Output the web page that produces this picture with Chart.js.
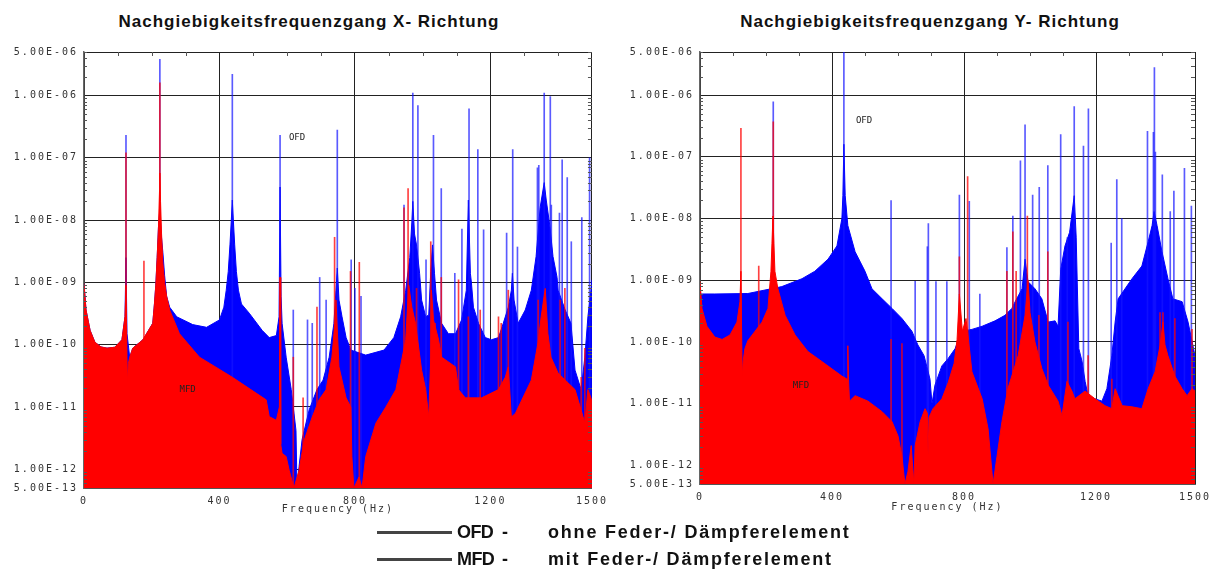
<!DOCTYPE html>
<html>
<head>
<meta charset="utf-8">
<script src="https://cdn.jsdelivr.net/npm/chart.js@4.4.1/dist/chart.umd.min.js"></script>
<style>
  html, body { margin: 0; padding: 0; background: #fff; }
  #page { position: relative; width: 1221px; height: 569px; overflow: hidden; font-family: 'Liberation Sans', Arial, sans-serif; }
  #page canvas { position: absolute; top: 0; }
  .title { position: absolute; top: 12px; font-weight: bold; font-size: 17px; letter-spacing: 1px; color: #111; text-align: center; white-space: nowrap; }
  .legline { position: absolute; left: 377px; width: 75px; height: 3px; background: #444; }
  .legtxt { position: absolute; font-weight: bold; font-size: 18px; color: #111; white-space: nowrap; line-height: 20px; }
  .legtxt.tag { letter-spacing: -0.6px; }
  .legtxt.wide { letter-spacing: 1.8px; }
</style>
</head>
<body>
<div id="page">
  <div class="title" style="left:9px;width:600px;">Nachgiebigkeitsfrequenzgang X- Richtung</div>
  <div class="title" style="left:630px;width:600px;">Nachgiebigkeitsfrequenzgang Y- Richtung</div>
  <canvas id="chartX" width="615" height="525" style="left:0;"></canvas>
  <canvas id="chartY" width="606" height="525" style="left:615px;"></canvas>

  <div class="legline" style="top:531px;"></div>
  <div class="legtxt tag" style="left:457px;top:522px;">OFD</div>
  <div class="legtxt" style="left:502px;top:522px;">-</div>
  <div class="legtxt wide" style="left:548px;top:522px;">ohne Feder-/ Dämpferelement</div>
  <div class="legline" style="top:558px;"></div>
  <div class="legtxt tag" style="left:457px;top:549px;">MFD</div>
  <div class="legtxt" style="left:502px;top:549px;">-</div>
  <div class="legtxt wide" style="left:548px;top:549px;">mit Feder-/ Dämpferelement</div>
</div>

<script>
// ---- axis ticks ----
const xTickValues = [0, 400, 800, 1200, 1500];
const yTickValues = [5e-13, 1e-12, 1e-11, 1e-10, 1e-9, 1e-8, 1e-7, 1e-6, 5e-6];
const xMinorTicks = [100, 200, 300, 500, 600, 700, 900, 1000, 1100, 1300, 1400];
const yFloor = 5e-13;
const yCeil = 5e-6;

// ---- X-Richtung: compliance envelopes [frequency Hz, m/N] ----
const ofdX = [
  [0, 9.5e-10], [6, 3.6e-10], [18, 1.7e-10], [32, 1.1e-10], [50, 9.2e-11], [68, 8.8e-11],
  [91, 9.1e-11], [112, 1.2e-10], [121, 2.8e-10], [124, 2.5e-9], [127, 1.5e-10], [135, 6.3e-11],
  [144, 8.8e-11], [174, 1.2e-10], [203, 2.2e-10], [208, 4.5e-10], [212, 9.0e-10], [216, 2.5e-9],
  [220, 8.0e-9], [224, 1.5e-8], [228, 6.0e-9], [233, 3.0e-9], [238, 1.3e-9], [244, 6.0e-10],
  [253, 4.0e-10], [274, 2.8e-10], [321, 2.1e-10], [362, 1.9e-10], [400, 2.5e-10], [413, 4.0e-10],
  [420, 7.5e-10], [426, 1.5e-9], [431, 4.0e-9], [435, 1.0e-8], [438, 2.1e-8], [441, 1.0e-8],
  [445, 4.0e-9], [450, 1.5e-9], [456, 7.5e-10], [465, 4.5e-10], [488, 3.2e-10], [526, 1.7e-10],
  [547, 1.3e-10], [568, 1.4e-10], [576, 2.8e-10], [579, 3.4e-8], [582, 6.0e-10], [585, 2.2e-10],
  [597, 6.3e-11], [612, 1.9e-11], [626, 4.2e-12], [629, 5.0e-13], [635, 1.1e-12], [644, 3.0e-12],
  [665, 9.0e-12], [688, 1.9e-11], [706, 2.7e-11], [724, 6.3e-11], [738, 2.2e-10], [744, 7.5e-10],
  [748, 1.7e-9], [753, 5.2e-10], [762, 2.8e-10], [774, 1.3e-10], [788, 8.2e-11], [832, 6.8e-11],
  [886, 8.2e-11], [915, 1.3e-10], [935, 2.8e-10], [950, 7.5e-10], [962, 2.5e-9], [968, 9.0e-9],
  [971, 2.0e-8], [976, 6.0e-9], [982, 4.0e-9], [991, 1.4e-9], [997, 5.2e-10], [1009, 2.8e-10],
  [1018, 3.0e-10], [1024, 1.5e-9], [1029, 4.0e-9], [1035, 1.4e-9], [1041, 5.2e-10], [1056, 2.2e-10],
  [1076, 1.5e-10], [1097, 1.5e-10], [1115, 2.5e-10], [1129, 7.5e-10], [1135, 2.1e-8], [1141, 1.4e-9],
  [1144, 1.0e-9], [1150, 4.0e-10], [1165, 2.2e-10], [1185, 1.3e-10], [1203, 1.2e-10], [1224, 1.3e-10],
  [1238, 2.2e-10], [1253, 4.0e-10], [1262, 7.5e-10], [1265, 1.4e-9], [1270, 5.2e-10], [1282, 2.2e-10],
  [1303, 3.6e-10], [1321, 7.5e-10], [1335, 2.6e-9], [1347, 1.6e-8], [1359, 4.0e-8], [1365, 2.1e-8],
  [1376, 7.8e-9], [1385, 2.6e-9], [1397, 1.2e-9], [1400, 7.5e-10], [1421, 3.6e-10], [1438, 2.2e-10],
  [1450, 3.9e-11], [1468, 1.9e-11], [1479, 6.3e-11], [1488, 2.8e-10], [1497, 7.5e-10], [1500, 1.1e-9]
];
const mfdX = [
  [0, 9.5e-10], [6, 3.6e-10], [18, 1.7e-10], [32, 1.1e-10], [50, 9.2e-11], [68, 8.8e-11],
  [91, 9.1e-11], [112, 1.2e-10], [121, 2.8e-10], [124, 9.0e-10], [126, 1.5e-10], [128, 2.5e-11],
  [131, 5.0e-11], [135, 6.3e-11], [144, 8.8e-11], [174, 1.2e-10], [203, 2.2e-10], [208, 4.5e-10],
  [212, 9.0e-10], [216, 2.5e-9], [220, 8.0e-9], [223, 3.0e-8], [224, 5.7e-8], [226, 2.0e-8],
  [229, 6.0e-9], [233, 2.0e-9], [238, 1.0e-9], [244, 6.0e-10], [253, 3.6e-10],
  [282, 1.5e-10], [341, 6.3e-11], [438, 3.0e-11], [538, 1.3e-11], [547, 7.0e-12], [568, 6.1e-12],
  [577, 1.0e-11], [579, 1.2e-9], [581, 2.5e-12], [585, 1.8e-12], [597, 1.6e-12], [606, 9.6e-13],
  [620, 5.0e-13], [635, 9.6e-13], [650, 2.9e-12], [674, 6.9e-12], [694, 1.3e-11], [715, 1.9e-11],
  [732, 6.3e-11], [741, 2.2e-10], [744, 5.2e-10], [753, 4.4e-11], [774, 1.4e-11], [788, 9.9e-12],
  [791, 1.6e-12], [797, 5.0e-13], [812, 7.5e-13], [821, 5.0e-13], [832, 1.6e-12], [862, 5.5e-12],
  [891, 9.9e-12], [921, 1.9e-11], [950, 1.2e-10], [959, 9.0e-10], [968, 4.0e-10], [979, 2.2e-10],
  [997, 3.9e-11], [1009, 1.9e-11], [1018, 6.9e-12], [1024, 6.3e-11], [1026, 7.5e-10], [1032, 2.5e-10],
  [1047, 1.2e-10], [1056, 6.3e-11], [1097, 4.4e-11], [1106, 1.9e-11], [1126, 1.4e-11], [1174, 1.4e-11],
  [1224, 1.9e-11], [1244, 3.0e-11], [1253, 4.4e-11], [1262, 6.9e-12], [1274, 7.9e-12], [1321, 2.7e-11],
  [1341, 1.1e-10], [1350, 2.8e-10], [1362, 8.0e-10], [1370, 1.5e-10], [1379, 6.3e-11], [1400, 3.5e-11],
  [1421, 2.7e-11], [1450, 1.9e-11], [1468, 8.9e-12], [1479, 5.5e-12], [1488, 1.9e-11], [1497, 1.4e-11],
  [1500, 1.2e-11]
];
// sharp resonance peaks [frequency Hz, peak m/N]
const ofdXPeaks = [
  [124, 2.3e-7], [224, 3.8e-6], [438, 2.2e-6], [579, 2.3e-7], [618, 3.6e-10], [660, 2.5e-10],
  [674, 2.2e-10], [696, 1.2e-9], [715, 5.2e-10], [748, 2.8e-7], [789, 2.3e-9], [800, 8.0e-10],
  [818, 6.0e-10], [945, 1.75e-8], [971, 1.1e-6], [986, 6.9e-7],
  [1010, 2.3e-9], [1032, 2.3e-7], [1055, 3.2e-8], [1095, 1.4e-9], [1116, 7.2e-9], [1137, 6.1e-7],
  [1163, 1.35e-7], [1180, 7.0e-9], [1248, 6.2e-9], [1266, 1.35e-7], [1280, 3.7e-9], [1339, 6.9e-8],
  [1343, 7.6e-8], [1359, 1.1e-6], [1377, 9.6e-7], [1380, 1.75e-8], [1404, 1.3e-8], [1412, 9.3e-8],
  [1427, 4.8e-8], [1439, 4.5e-9], [1470, 1.1e-8], [1493, 1.0e-7]
];
const mfdXPeaks = [
  [124, 1.2e-7], [177, 2.2e-9], [224, 1.6e-6], [579, 1.2e-9], [618, 6.3e-11], [647, 1.4e-11],
  [688, 4.0e-10], [740, 5.3e-9], [787, 1.5e-9], [813, 2.1e-9], [945, 1.57e-8], [957, 3.2e-8], [982, 8.0e-10],
  [1024, 4.5e-9], [1037, 2.2e-10], [1055, 1.2e-9], [1106, 1.1e-9], [1135, 2.8e-10], [1170, 3.6e-10],
  [1224, 2.8e-10], [1232, 2.2e-10], [1253, 7.5e-10], [1341, 5.2e-10], [1406, 5.2e-10], [1420, 8.0e-10],
  [1468, 3.0e-11], [1479, 8.7e-11]
];

// ---- Y-Richtung ----
const ofdY = [
  [0, 6.0e-10], [45, 6.0e-10], [145, 6.1e-10], [248, 7.9e-10], [309, 1.06e-9], [348, 1.4e-9],
  [388, 2.2e-9], [415, 3.6e-9], [430, 1.0e-8], [433, 2.35e-8], [436, 1.6e-7], [440, 2.35e-8],
  [448, 7.7e-9], [470, 2.9e-9], [500, 1.4e-9], [521, 7.3e-10], [552, 5.0e-10], [582, 3.5e-10],
  [612, 2.4e-10], [642, 1.5e-10], [660, 9.0e-11], [679, 6.0e-11], [697, 2.5e-11], [703, 1.0e-11],
  [712, 2.0e-11], [733, 4.1e-11], [752, 5.4e-11], [773, 7.8e-11], [786, 1.2e-10], [794, 1.5e-10],
  [824, 1.6e-10], [855, 1.8e-10], [894, 2.2e-10], [924, 2.7e-10], [945, 3.5e-10], [955, 4.5e-10],
  [976, 7.3e-10], [985, 2.2e-9], [994, 9.5e-10], [1015, 7.3e-10], [1036, 5.0e-10], [1055, 2.1e-10],
  [1076, 2.2e-10], [1085, 1.8e-10], [1093, 1.5e-9], [1106, 3.6e-9], [1120, 6.0e-9], [1134, 2.35e-8],
  [1140, 5.0e-9], [1143, 1.0e-9], [1148, 7.8e-11], [1158, 4.8e-11], [1167, 2.3e-11], [1176, 1.35e-11],
  [1197, 1.2e-11], [1218, 1.1e-11], [1233, 1.75e-11], [1248, 6.0e-11], [1258, 2.1e-10], [1267, 5.0e-10],
  [1309, 1.06e-9], [1339, 1.7e-9], [1358, 4.2e-9], [1370, 7.7e-9], [1376, 1.3e-8], [1385, 7.7e-9],
  [1400, 2.9e-9], [1418, 1.06e-9], [1433, 5.0e-10], [1461, 4.5e-10], [1479, 2.1e-10], [1500, 6.0e-11]
];
const mfdY = [
  [0, 9.5e-10], [6, 3.5e-10], [21, 1.8e-10], [45, 1.2e-10], [67, 1.1e-10], [91, 1.3e-10],
  [112, 2.1e-10], [121, 4.5e-10], [124, 1.4e-9], [126, 1.5e-10], [128, 2.8e-11], [131, 5.0e-11],
  [136, 7.8e-11], [145, 1.05e-10], [167, 1.5e-10], [188, 2.1e-10], [206, 3.5e-10], [215, 1.4e-9],
  [218, 3.9e-9], [221, 1.1e-8], [224, 3.9e-9], [227, 1.4e-9], [236, 7.3e-10], [258, 2.7e-10],
  [288, 1.3e-10], [327, 7.0e-11], [370, 4.8e-11], [430, 2.8e-11], [446, 2.5e-11], [448, 8.7e-11],
  [450, 2.5e-11], [453, 1.1e-11], [470, 1.35e-11], [509, 1.1e-11], [552, 7.4e-12], [582, 5.1e-12],
  [600, 3.0e-12], [612, 1.4e-12], [621, 5.0e-13], [630, 7.9e-13], [640, 2.1e-12], [648, 5.0e-13],
  [652, 2.1e-12], [667, 5.1e-12], [682, 8.3e-12], [689, 7.0e-12], [691, 1.5e-12], [694, 6.0e-12],
  [706, 8.3e-12], [733, 1.2e-11], [752, 2.2e-11], [770, 4.5e-11], [779, 1.1e-10], [786, 6.0e-10],
  [795, 1.5e-10], [806, 2.4e-10], [812, 1.3e-10], [824, 3.3e-11], [855, 1.2e-11], [873, 3.9e-12],
  [888, 5.0e-13], [900, 1.4e-12], [915, 5.1e-12], [933, 1.75e-11], [964, 6.0e-11], [985, 2.7e-10],
  [994, 1.0e-9], [1000, 3.0e-10], [1015, 1.0e-10], [1036, 3.7e-11], [1055, 2.0e-11], [1085, 1.1e-11],
  [1097, 6.4e-12], [1112, 2.3e-11], [1127, 1.6e-11], [1136, 1.2e-11], [1167, 1.6e-11], [1197, 1.2e-11],
  [1227, 9.3e-12], [1248, 8.3e-12], [1258, 1.75e-11], [1279, 9.3e-12], [1309, 8.9e-12], [1339, 8.3e-12],
  [1358, 1.75e-11], [1379, 3.3e-11], [1394, 8.7e-11], [1403, 2.1e-10], [1409, 9.0e-11], [1418, 6.0e-11],
  [1439, 2.8e-11], [1461, 1.75e-11], [1476, 1.35e-11], [1491, 1.75e-11], [1500, 1.6e-11]
];
const ofdYPeaks = [
  [222, 7.8e-7], [436, 5.0e-6], [579, 1.95e-8], [652, 9.6e-10], [689, 3.5e-9], [692, 8.3e-9],
  [715, 9.5e-10], [748, 9.5e-10], [786, 2.4e-8], [816, 1.9e-8], [848, 6.0e-10], [930, 3.4e-9],
  [948, 1.1e-8], [971, 8.6e-8], [985, 3.3e-7], [1008, 2.4e-8], [1028, 3.2e-8], [1054, 7.2e-8],
  [1093, 2.3e-7], [1113, 4.9e-9], [1134, 6.5e-7], [1162, 1.5e-7], [1177, 6.0e-7], [1246, 4.0e-9],
  [1263, 4.3e-8], [1278, 1.0e-8], [1356, 2.6e-7], [1374, 2.5e-7], [1377, 2.8e-6], [1380, 1.2e-7],
  [1401, 5.1e-8], [1425, 1.3e-8], [1436, 2.8e-8], [1468, 6.5e-8], [1489, 1.6e-8]
];
const mfdYPeaks = [
  [124, 2.9e-7], [178, 1.7e-9], [222, 3.7e-7], [579, 1.1e-10], [612, 9.4e-11], [786, 2.4e-9],
  [811, 4.8e-8], [930, 1.4e-9], [948, 6.1e-9], [958, 1.4e-9], [992, 1.1e-8], [1027, 2.7e-10],
  [1054, 2.9e-9], [1115, 2.1e-10], [1176, 6.0e-11], [1248, 2.5e-11], [1394, 3.0e-10], [1403, 3.0e-10],
  [1439, 2.4e-10], [1491, 1.6e-10]
];

// ---- helpers ----
const AXIS_FONT = 'DejaVu Sans Mono';
const toPoints = arr => arr.map(([f, v]) => ({ x: f, y: v }));
const toSpikes = arr => arr.map(([f, v]) => ({ x: f, y: [yFloor, v] }));

function sciLabel(v) {
  const e = Math.floor(Math.log10(v) + 1e-9);
  const m = v / Math.pow(10, e);
  return m.toFixed(2) + 'E' + (e < 0 ? '-' : '+') + String(Math.abs(e)).padStart(2, '0');
}

// wide letter spacing for the axis lettering
const spacedText = {
  id: 'spacedText',
  beforeUpdate(chart) { chart.ctx.letterSpacing = '2px'; },
  beforeDraw(chart) { chart.ctx.letterSpacing = '2px'; }
};

// short inner tick marks along the frame
const frameTicks = {
  id: 'frameTicks',
  afterDatasetsDraw(chart) {
    const { ctx, chartArea: a, scales: { x, y } } = chart;
    const yMinor = [];
    for (let e = -13; e <= -6; e++) {
      for (let m = 2; m <= 9; m++) {
        const v = m * Math.pow(10, e);
        if (v > yFloor && v < yCeil) yMinor.push(v);
      }
    }
    ctx.save();
    ctx.strokeStyle = '#555';
    ctx.lineWidth = 1;
    ctx.beginPath();
    yMinor.forEach(v => {
      const py = Math.round(y.getPixelForValue(v)) + 0.5;
      ctx.moveTo(a.left, py); ctx.lineTo(a.left + 3, py);
      ctx.moveTo(a.right, py); ctx.lineTo(a.right - 4, py);
    });
    xMinorTicks.forEach(v => {
      const px = Math.round(x.getPixelForValue(v)) + 0.5;
      ctx.moveTo(px, a.top); ctx.lineTo(px, a.top + 4);
    });
    ctx.stroke();
    ctx.restore();
  }
};

// "OFD" / "MFD" tags inside the plot
const seriesTags = {
  id: 'seriesTags',
  afterDatasetsDraw(chart, args, opts) {
    const { ctx, scales: { x, y } } = chart;
    ctx.save();
    ctx.letterSpacing = '0px';
    ctx.font = '9px "' + AXIS_FONT + '"';
    ctx.fillStyle = '#222';
    ctx.textAlign = 'center';
    ctx.textBaseline = 'middle';
    (opts.items || []).forEach(t => ctx.fillText(t.text, x.getPixelForValue(t.f), y.getPixelForValue(t.v)));
    ctx.restore();
  }
};

function makeChart(id, s) {
  return new Chart(document.getElementById(id), {
    type: 'line',
    data: {
      datasets: [
        { type: 'bar', label: 'MFD peaks', data: toSpikes(s.mfdPeaks), backgroundColor: 'rgba(255,0,0,0.75)',
          barThickness: 1, grouped: false, order: 0 },
        { type: 'line', label: 'MFD', data: toPoints(s.mfd), borderColor: '#ff0000', backgroundColor: '#ff0000',
          borderWidth: 1, fill: 'start', pointRadius: 0, tension: 0, order: 1 },
        { type: 'bar', label: 'OFD peaks', data: toSpikes(s.ofdPeaks), backgroundColor: 'rgba(20,20,255,0.7)',
          barThickness: 1, grouped: false, order: 2 },
        { type: 'line', label: 'OFD', data: toPoints(s.ofd), borderColor: '#0000ff', backgroundColor: '#0000ff',
          borderWidth: 1, fill: 'start', pointRadius: 0, tension: 0, order: 3 }
      ]
    },
    options: {
      responsive: false,
      devicePixelRatio: 1,
      animation: false,
      events: [],
      layout: { padding: { top: 52, right: s.padRight, bottom: 0, left: 0 } },
      plugins: {
        legend: { display: false },
        tooltip: { enabled: false },
        seriesTags: { items: s.tags }
      },
      scales: {
        x: {
          type: 'linear', min: 0, max: 1500, offset: false,
          afterBuildTicks: sc => { sc.ticks = xTickValues.map(v => ({ value: v })); },
          afterFit: sc => { sc.height = s.xAxisHeight; },
          grid: { color: '#222', lineWidth: 1, drawTicks: false, offset: false },
          border: { display: true, color: '#555', width: 1 },
          ticks: { padding: 7, maxRotation: 0, autoSkip: false, color: '#333',
                   font: { family: AXIS_FONT, size: 10 }, callback: v => String(v) },
          title: { display: true, text: 'Frequency (Hz)', color: '#333',
                   font: { family: AXIS_FONT, size: 10 }, padding: { top: 0, bottom: s.titlePad } }
        },
        y: {
          type: 'logarithmic', min: yFloor, max: yCeil,
          afterBuildTicks: sc => { sc.ticks = yTickValues.map(v => ({ value: v })); },
          afterFit: sc => { sc.width = s.yAxisWidth; },
          grid: { color: '#222', lineWidth: 1, drawTicks: false },
          border: { display: true, color: '#666', width: 1.5 },
          ticks: { padding: 6, autoSkip: false, color: '#333',
                   font: { family: AXIS_FONT, size: 10 }, callback: v => sciLabel(v) }
        }
      }
    },
    plugins: [spacedText, frameTicks, seriesTags]
  });
}

makeChart('chartX', {
  ofd: ofdX, mfd: mfdX, ofdPeaks: ofdXPeaks, mfdPeaks: mfdXPeaks,
  padRight: 21, yAxisWidth: 84, xAxisHeight: 37, titlePad: 10,
  tags: [{ text: 'OFD', f: 629, v: 2.1e-7 }, { text: 'MFD', f: 306, v: 1.93e-11 }]
});
makeChart('chartY', {
  ofd: ofdY, mfd: mfdY, ofdPeaks: ofdYPeaks, mfdPeaks: mfdYPeaks,
  padRight: 26, yAxisWidth: 85, xAxisHeight: 41, titlePad: 12,
  tags: [{ text: 'OFD', f: 497, v: 3.9e-7 }, { text: 'MFD', f: 306, v: 1.96e-11 }]
});
</script>
</body>
</html>
